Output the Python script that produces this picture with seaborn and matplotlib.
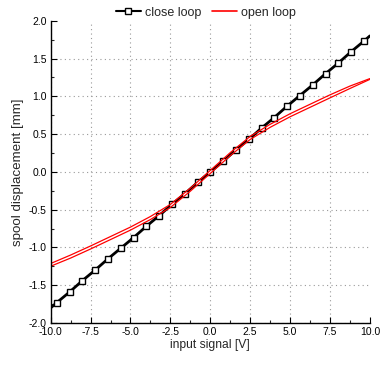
import numpy as np
import pandas as pd
import matplotlib
matplotlib.use("Agg")
import matplotlib.pyplot as plt
import seaborn as sns
from matplotlib.ticker import MultipleLocator
from matplotlib.lines import Line2D

# close loop: straight line, markers on the inner points
close_x = [-10.0, -9.62, -8.82, -8.02, -7.22, -6.41, -5.61, -4.81, -4.01, -3.21, -2.41, -1.6, -0.8,
           0.0, 0.8, 1.6, 2.41, 3.21, 4.01, 4.81, 5.61, 6.41, 7.22, 8.02, 8.82, 9.62, 10.0]
close_y = [-1.8, -1.73, -1.59, -1.44, -1.3, -1.15, -1.01, -0.87, -0.72, -0.58, -0.43, -0.29, -0.14,
           0.0, 0.14, 0.29, 0.43, 0.58, 0.72, 0.87, 1.01, 1.15, 1.3, 1.44, 1.59, 1.73, 1.8]

# open loop: narrow hysteresis loop (centre line and half width)
open_x = [-10.0, -8.75, -7.5, -6.25, -5.0, -3.75, -2.5, -1.25, 0.0, 1.25, 2.5, 3.75, 5.0, 6.25, 7.5, 8.75, 10.0]
open_mid = [-1.23, -1.12, -1.0, -0.875, -0.75, -0.61, -0.45, -0.235, 0.0, 0.235, 0.45, 0.61, 0.75, 0.875, 1.0, 1.12, 1.23]
open_half = [0.018, 0.02, 0.02, 0.02, 0.02, 0.02, 0.02, 0.02, 0.02, 0.02, 0.02, 0.02, 0.02, 0.02, 0.02, 0.016, 0.005]

x_ticks = [-10.0, -7.5, -5.0, -2.5, 0.0, 2.5, 5.0, 7.5, 10.0]
y_ticks = [-2.0, -1.5, -1.0, -0.5, 0.0, 0.5, 1.0, 1.5, 2.0]

df_close = pd.DataFrame({"x": close_x, "y": close_y})
up = pd.DataFrame({"x": open_x, "y": np.array(open_mid) - np.array(open_half), "branch": "up"})
down = pd.DataFrame({"x": open_x[::-1], "y": (np.array(open_mid) + np.array(open_half))[::-1], "branch": "down"})
df_open = pd.concat([up, down], ignore_index=True)

sns.set_style("ticks")
plt.rcParams["font.family"] = ["Liberation Sans", "DejaVu Sans"]

fig = plt.figure(figsize=(3.85, 3.65), dpi=100)
ax = fig.add_axes([0.1317, 0.115, 0.829, 0.828])

sns.lineplot(data=df_close, x="x", y="y", ax=ax, color="black", linewidth=2, sort=False,
             marker="s", markersize=5, markerfacecolor="white", markeredgecolor="black",
             markeredgewidth=1, markevery=list(range(1, len(close_x) - 1)), legend=False)
sns.lineplot(data=df_open, x="x", y="y", ax=ax, units="branch", estimator=None, sort=False,
             color="red", linewidth=0.9, legend=False)

ax.set_xlim(-10, 10)
ax.set_ylim(-2, 2)
ax.set_xticks(x_ticks)
ax.set_yticks(y_ticks)
ax.set_xticklabels([f"{t:.1f}" for t in x_ticks])
ax.set_yticklabels([f"{t:.1f}" for t in y_ticks])
ax.xaxis.set_minor_locator(MultipleLocator(1.25))
ax.yaxis.set_minor_locator(MultipleLocator(0.25))
ax.tick_params(which="major", direction="in", length=4, width=0.8, labelsize=7.5, pad=3, colors="black")
ax.tick_params(which="minor", direction="in", length=2.5, width=0.8)
for s in ["left", "bottom"]:
    ax.spines[s].set_linewidth(1)
    ax.spines[s].set_color("black")
sns.despine(ax=ax)

ax.grid(True, which="major", linestyle=(0, (1, 3)), color="#999999", linewidth=0.8)
ax.xaxis.get_gridlines()[-1].set_visible(False)
ax.yaxis.get_gridlines()[-1].set_visible(False)

ax.set_xlabel("input signal [V]", fontsize=8.7, labelpad=1)
ax.set_ylabel("spool displacement [mm]", fontsize=9.6, labelpad=3)

handles = [Line2D([], [], color="black", linewidth=1.5, marker="s", markersize=5,
                  markerfacecolor="white", markeredgecolor="black"),
           Line2D([], [], color="red", linewidth=1.2)]
ax.legend(handles, ["close loop", "open loop"], loc="center", bbox_to_anchor=(0.486, 1.027),
          ncol=2, frameon=False, fontsize=9, handlelength=2.0, handletextpad=0.3,
          columnspacing=0.9, borderaxespad=0, borderpad=0)

fig.savefig("out.png", dpi=100)
